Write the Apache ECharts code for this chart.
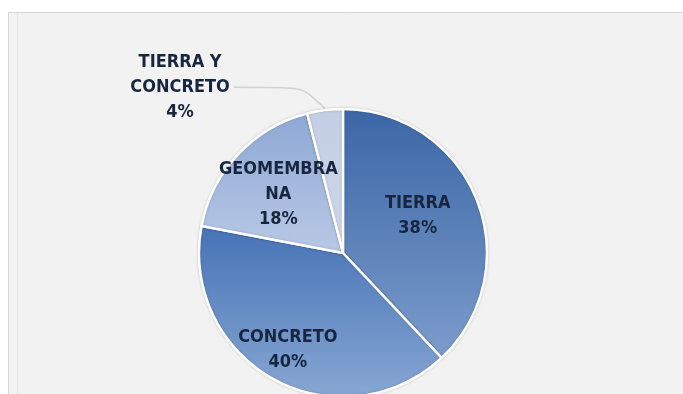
<!DOCTYPE html>
<html>
<head>
<meta charset="utf-8">
<script src="https://cdn.jsdelivr.net/npm/echarts@6/dist/echarts.min.js"></script>
<style>
  html, body { margin: 0; padding: 0; background: #ffffff; }
  #chart { width: 683px; height: 394px; }
</style>
</head>
<body>
<div id="chart"></div>
<script>
// Tipo de revestimiento de canales (porcentaje)
const categories = ['TIERRA', 'CONCRETO', 'GEOMEMBRANA', 'TIERRA Y CONCRETO'];
const values = [38, 40, 18, 4];
const labelLines = [['TIERRA'], ['CONCRETO'], ['GEOMEMBRA', 'NA'], ['TIERRA Y', 'CONCRETO']];

// Gradient stops per slice (top colour, bottom colour)
const sliceTop = ['#3b66a6', '#4673b6', '#8ea8d4', '#c3cee4'];
const sliceBottom = ['#7c9ccb', '#88a7d3', '#b9c9e6', '#cfd8ea'];
// Nudges for the inside labels
const labelOffsets = [[5, -10], [-19, 31], [-10, -7], [0, 0]];

const chart = echarts.init(document.getElementById('chart'), null, { renderer: 'canvas' });

const fontFamily = '"Liberation Sans Narrow", "DejaVu Sans Condensed", "Liberation Sans", sans-serif';

// Each line is a fixed-width, centred rich fragment so multi-line labels stay centred
const richLabel = (lines) => lines.concat(['{d}%']).map(t => '{c|' + t + '}').join('\n');

const data = categories.map((name, i) => {
  const item = {
    name: name,
    value: values[i],
    itemStyle: {
      color: new echarts.graphic.LinearGradient(0, 0, 0, 1, [
        { offset: 0, color: sliceTop[i] },
        { offset: 1, color: sliceBottom[i] }
      ], false)
    },
    label: {
      formatter: labelLines[i].concat(['{d}%']).join('\n'),
      offset: labelOffsets[i]
    }
  };
  if (i === 3) {
    item.label = {
      position: 'outside',
      formatter: richLabel(labelLines[i]),
      distanceToLabelLine: 2,
      rich: {
        c: {
          width: 104,
          align: 'center',
          color: '#17263f',
          fontFamily: fontFamily,
          fontWeight: 'bold',
          fontSize: 18,
          lineHeight: 25
        }
      }
    };
    item.labelLine = {
      show: true,
      length: 23,
      length2: 88,
      smooth: 0.9,
      lineStyle: { color: '#d2d2d2', width: 1.5 }
    };
  }
  return item;
});

chart.setOption({
  backgroundColor: '#ffffff',
  animation: false,
  graphic: [{
    type: 'rect',
    z: -1,
    shape: { x: 8.5, y: 12.5, width: 700, height: 400 },
    style: { fill: '#f2f2f2', stroke: '#d6d6d6', lineWidth: 1 }
  }, {
    type: 'line',
    z: -1,
    shape: { x1: 17.5, y1: 13, x2: 17.5, y2: 394 },
    style: { stroke: '#e8e8e8', lineWidth: 1 }
  }],
  series: [{
    type: 'pie',
    center: [343, 253],
    radius: 144,
    startAngle: 90,
    clockwise: true,
    avoidLabelOverlap: false,
    percentPrecision: 0,
    itemStyle: {
      borderColor: '#ffffff',
      borderWidth: 2.5,
      shadowColor: 'rgba(0,0,0,0.15)',
      shadowBlur: 3
    },
    label: {
      show: true,
      position: 'inside',
      color: '#17263f',
      fontFamily: fontFamily,
      fontWeight: 'bold',
      fontSize: 18,
      lineHeight: 25,
      align: 'center'
    },
    labelLine: { show: false },
    data: data
  }]
});
</script>
</body>
</html>
